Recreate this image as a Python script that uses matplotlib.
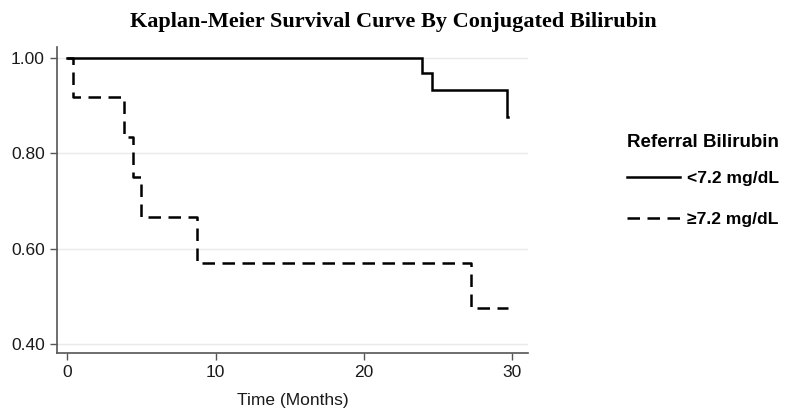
import matplotlib
matplotlib.use("Agg")
import matplotlib.pyplot as plt

# Data
low_times = [0, 23.9, 24.6, 29.6, 29.7]
low_surv = [1.0, 0.967, 0.933, 0.875, 0.875]
high_times = [0, 0.4, 3.82, 4.41, 4.95, 8.77, 27.2, 29.7]
high_surv = [1.0, 0.917, 0.833, 0.75, 0.667, 0.571, 0.476, 0.476]
series_labels = ["<7.2 mg/dL", "\u22657.2 mg/dL"]
x_ticks = [0, 10, 20, 30]
y_ticks = [0.40, 0.60, 0.80, 1.00]

fig = plt.figure(figsize=(7.86, 4.13), dpi=100)
ax = fig.add_axes([0.0721, 0.1446, 0.5997, 0.7414])

ax.step(low_times, low_surv, where="post", color="black", lw=1.8,
        label=series_labels[0], solid_joinstyle="miter")
ax.step(high_times, high_surv, where="post", color="black", lw=1.8,
        dashes=(5.0, 3.0), label=series_labels[1])

ax.set_xlim(-0.7, 31.05)
ax.set_ylim(0.381, 1.022)
ax.set_xticks(x_ticks)
ax.set_yticks(y_ticks)
ax.set_yticklabels([f"{v:.2f}" for v in y_ticks])
ax.grid(axis="y", color="#eaeaea", lw=1.0)
ax.set_axisbelow(True)

for s in ["top", "right"]:
    ax.spines[s].set_visible(False)
for s in ["left", "bottom"]:
    ax.spines[s].set_color("#555555")
    ax.spines[s].set_linewidth(1.2)
ax.tick_params(axis="both", direction="out", length=5, width=1.0, color="#555555",
               labelsize=12.5, labelcolor="#1a1a1a")
for lab in ax.get_xticklabels() + ax.get_yticklabels():
    lab.set_family("Liberation Sans")

ax.set_xlabel("Time (Months)", fontsize=12.5, family="Liberation Sans", color="#1a1a1a", labelpad=9)

fig.suptitle("Kaplan-Meier Survival Curve By Conjugated Bilirubin", x=0.5, y=0.972,
             fontsize=16, fontweight="bold", family="Liberation Serif")

leg = ax.legend(loc="upper left", bbox_to_anchor=(1.21, 0.715), frameon=False,
                title="Referral Bilirubin", alignment="left",
                prop={"family": "Liberation Sans", "weight": "bold", "size": 12.6},
                handlelength=3.0, handletextpad=0.45, labelspacing=1.45, borderpad=0,
                borderaxespad=0)
leg.get_title().set_fontweight("bold")
leg.get_title().set_fontsize(13.5)
leg.get_title().set_family("Liberation Sans")
leg._legend_box.sep = 14

fig.savefig("out.png", dpi=100)
